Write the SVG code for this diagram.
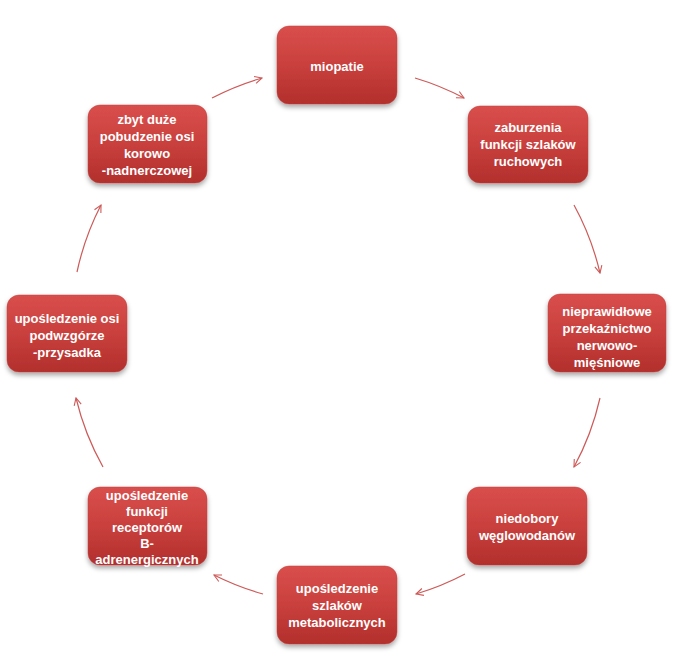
<svg xmlns="http://www.w3.org/2000/svg" width="679" height="661" viewBox="0 0 679 661">
<defs>
<linearGradient id="g" x1="0" y1="0" x2="0" y2="1">
<stop offset="0" stop-color="#d94f4c"/>
<stop offset="0.5" stop-color="#c9403d"/>
<stop offset="1" stop-color="#b22f2c"/>
</linearGradient>
<filter id="sh" x="-20%" y="-20%" width="140%" height="150%">
<feDropShadow dx="0" dy="3" stdDeviation="2.5" flood-color="#000" flood-opacity="0.35"/>
</filter>
<marker id="ah" viewBox="0 0 10 10" refX="9" refY="5" markerWidth="9" markerHeight="9" markerUnits="userSpaceOnUse" orient="auto">
<path d="M1,1 L9,5 L1,9" fill="none" stroke="#cd5a58" stroke-width="1.2"/>
</marker>
<style>
.box{fill:url(#g);stroke:#c0403d;stroke-width:0.5;filter:url(#sh)}
.t{font-family:"Liberation Sans",Arial,sans-serif;font-weight:bold;font-size:13px;fill:#fff;text-anchor:middle;dominant-baseline:central}
.c{fill:none;stroke:#cd5a58;stroke-width:1.2;marker-end:url(#ah)}
</style>
</defs>
<g id="connectors">
<path class="c" d="M415,78 A270,270 0 0 1 464,98"/>
<path class="c" d="M574,205 A270,270 0 0 1 600,273"/>
<path class="c" d="M600,398 A270,270 0 0 1 574,467"/>
<path class="c" d="M465,574 A270,270 0 0 1 416,594"/>
<path class="c" d="M263,594 A270,270 0 0 1 214,575"/>
<path class="c" d="M103,467 A270,270 0 0 1 76,398"/>
<path class="c" d="M77,272 A270,270 0 0 1 101,205"/>
<path class="c" d="M212,98 A270,270 0 0 1 262,78"/>
</g>
<g id="n1"><rect class="box" x="277" y="26" width="120" height="78" rx="12"/>
<text class="t" x="337" y="66">miopatie</text></g>
<g id="n2"><rect class="box" x="468" y="106" width="120" height="77" rx="12"/>
<text class="t" x="528" y="127">zaburzenia</text><text class="t" x="528" y="144">funkcji szlaków</text><text class="t" x="528" y="161">ruchowych</text></g>
<g id="n3"><rect class="box" x="548" y="294" width="118" height="78" rx="12"/>
<text class="t" x="607" y="311">nieprawidłowe</text><text class="t" x="607" y="328">przekaźnictwo</text><text class="t" x="607" y="345">nerwowo-</text><text class="t" x="607" y="362">mięśniowe</text></g>
<g id="n4"><rect class="box" x="467" y="487" width="120" height="78" rx="12"/>
<text class="t" x="527" y="518">niedobory</text><text class="t" x="527" y="535">węglowodanów</text></g>
<g id="n5"><rect class="box" x="277" y="566" width="120" height="78" rx="12"/>
<text class="t" x="337" y="588">upośledzenie</text><text class="t" x="337" y="605">szlaków</text><text class="t" x="337" y="622">metabolicznych</text></g>
<g id="n6"><rect class="box" x="88" y="487" width="119" height="78" rx="12"/>
<text class="t" x="147" y="495">upośledzenie</text><text class="t" x="147" y="511">funkcji</text><text class="t" x="147" y="527">receptorów</text><text class="t" x="147" y="543">B-</text><text class="t" x="147" y="559">adrenergicznych</text></g>
<g id="n7"><rect class="box" x="7" y="295" width="120" height="77" rx="12"/>
<text class="t" x="67" y="318">upośledzenie osi</text><text class="t" x="67" y="335">podwzgórze</text><text class="t" x="67" y="352">-przysadka</text></g>
<g id="n8"><rect class="box" x="88" y="105" width="119" height="78" rx="12"/>
<text class="t" x="147" y="119">zbyt duże</text><text class="t" x="147" y="136">pobudzenie osi</text><text class="t" x="147" y="153">korowo</text><text class="t" x="147" y="170">-nadnerczowej</text></g>
</svg>
